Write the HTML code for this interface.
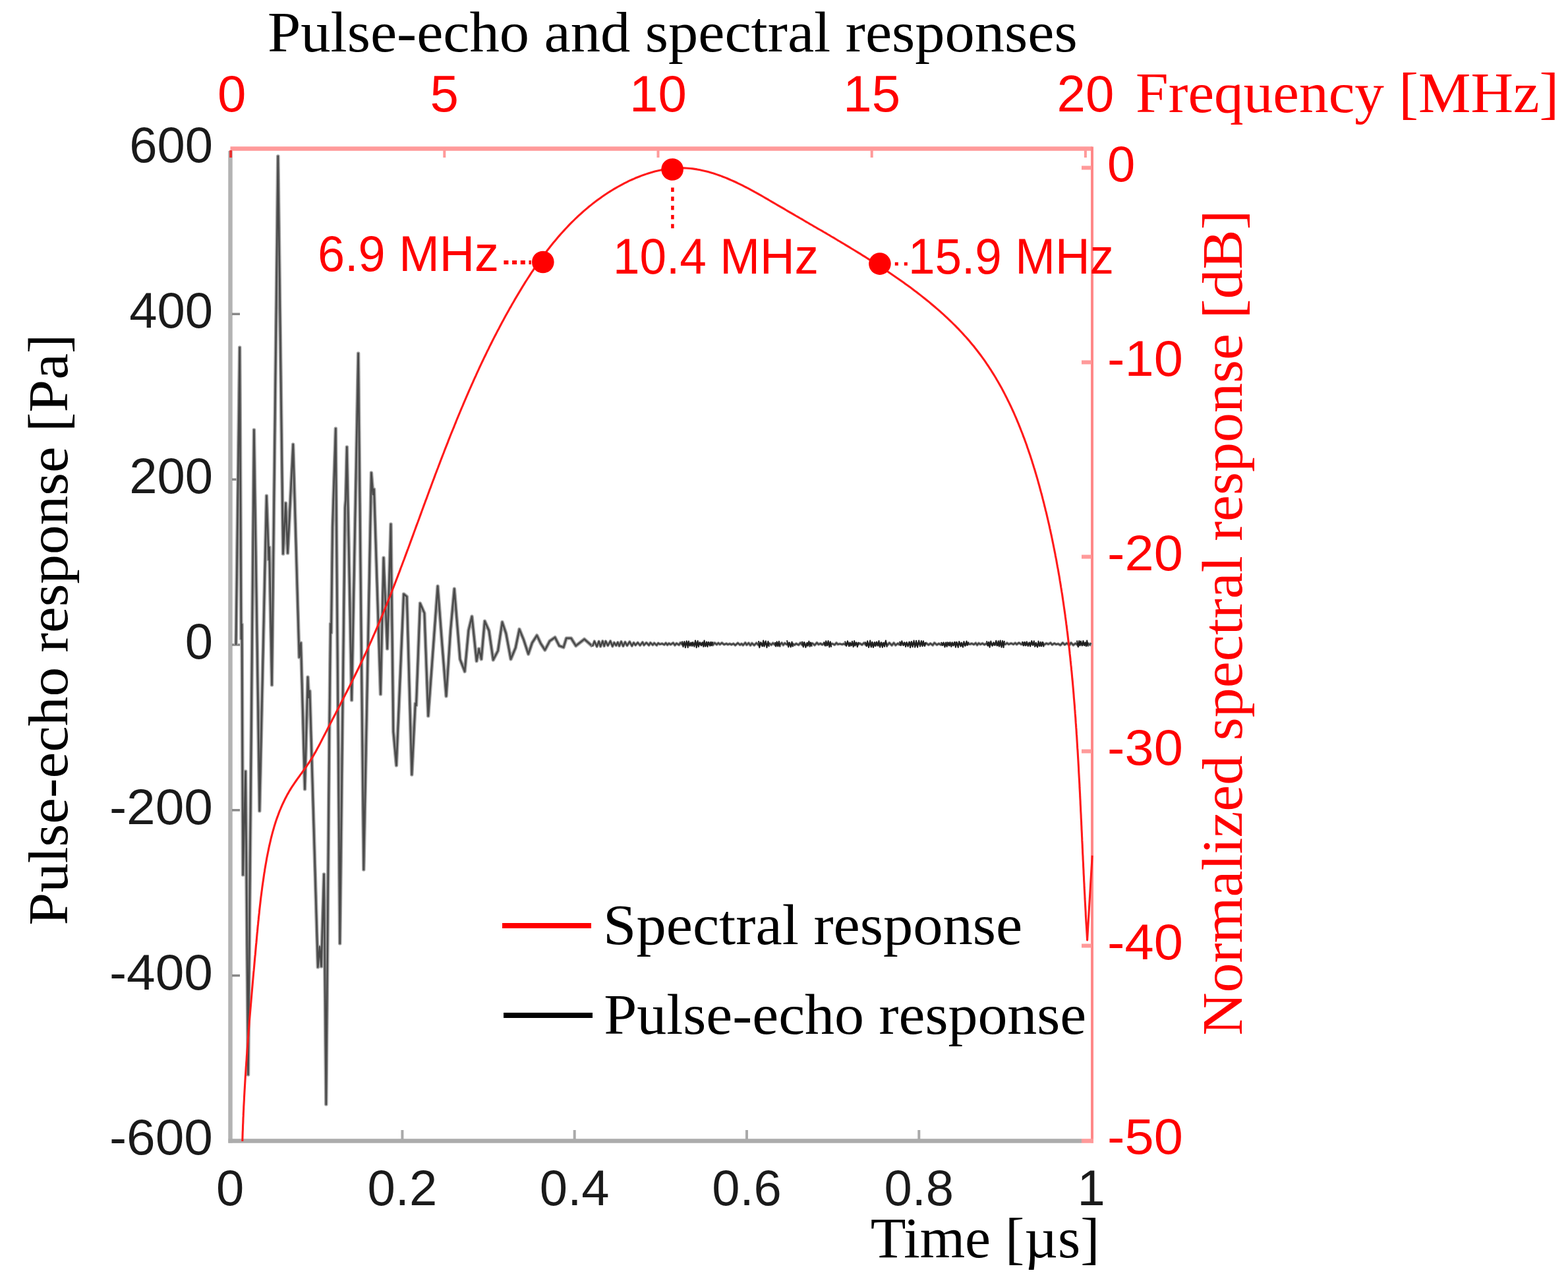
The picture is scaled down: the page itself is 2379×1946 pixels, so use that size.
<!DOCTYPE html>
<html><head><meta charset="utf-8"><title>Pulse-echo and spectral responses</title>
<style>html,body{margin:0;padding:0;background:#fff;overflow:hidden;}svg{display:block;}</style></head>
<body>
<svg width="2379" height="1946" viewBox="0 0 2379 1946">
<line x1="349.5" y1="225.5" x2="1657" y2="225.5" stroke="#ff9a9a" stroke-width="6.5"/>
<line x1="1657" y1="222.5" x2="1657" y2="1733.5" stroke="#ff8888" stroke-width="4"/>
<line x1="349.5" y1="229" x2="349.5" y2="1733.5" stroke="#b3b3b3" stroke-width="6.5"/>
<line x1="346.5" y1="1730.5" x2="1641" y2="1730.5" stroke="#acacac" stroke-width="6.5"/>
<line x1="1641" y1="1730.5" x2="1659" y2="1730.5" stroke="#ff9a9a" stroke-width="6.5"/>
<line x1="352" y1="476.3" x2="364" y2="476.3" stroke="#888" stroke-width="3.5"/>
<line x1="352" y1="727.2" x2="364" y2="727.2" stroke="#888" stroke-width="3.5"/>
<line x1="352" y1="978.0" x2="364" y2="978.0" stroke="#888" stroke-width="3.5"/>
<line x1="352" y1="1228.8" x2="364" y2="1228.8" stroke="#888" stroke-width="3.5"/>
<line x1="352" y1="1479.7" x2="364" y2="1479.7" stroke="#888" stroke-width="3.5"/>
<line x1="610.4" y1="1714" x2="610.4" y2="1728" stroke="#aaa" stroke-width="4"/>
<line x1="871.7" y1="1714" x2="871.7" y2="1728" stroke="#aaa" stroke-width="4"/>
<line x1="1133.0" y1="1714" x2="1133.0" y2="1728" stroke="#aaa" stroke-width="4"/>
<line x1="1394.3" y1="1714" x2="1394.3" y2="1728" stroke="#aaa" stroke-width="4"/>
<line x1="350.1" y1="228" x2="350.1" y2="239" stroke="#e83030" stroke-width="4"/>
<line x1="674.3" y1="228" x2="674.3" y2="239" stroke="#ff9a9a" stroke-width="4"/>
<line x1="998.5" y1="228" x2="998.5" y2="239" stroke="#ff9a9a" stroke-width="4"/>
<line x1="1322.7" y1="228" x2="1322.7" y2="239" stroke="#ff9a9a" stroke-width="4"/>
<line x1="1646.9" y1="228" x2="1646.9" y2="239" stroke="#ff9a9a" stroke-width="4"/>
<line x1="1641" y1="254.5" x2="1656" y2="254.5" stroke="#ff9a9a" stroke-width="6"/>
<line x1="1641" y1="549.5" x2="1656" y2="549.5" stroke="#ff9a9a" stroke-width="6"/>
<line x1="1641" y1="844.5" x2="1656" y2="844.5" stroke="#ff9a9a" stroke-width="6"/>
<line x1="1641" y1="1139.5" x2="1656" y2="1139.5" stroke="#ff9a9a" stroke-width="6"/>
<line x1="1641" y1="1434.5" x2="1656" y2="1434.5" stroke="#ff9a9a" stroke-width="6"/>
<path d="M358.0,978.0 L363.7,527.0 L366.0,969.0 L367.0,947.0 L368.6,1327.0 L372.6,1170.0 L376.5,1630.0 L385.4,652.0 L393.8,1230.0 L404.4,752.0 L407.8,849.0 L408.6,830.0 L412.5,1039.0 L421.8,237.0 L429.5,840.0 L433.5,763.0 L436.5,839.0 L444.7,674.0 L454.0,997.0 L456.5,975.0 L462.5,1197.0 L467.0,1027.0 L468.5,1058.0 L470.0,1048.0 L482.3,1467.0 L485.0,1436.0 L487.5,1466.0 L491.5,1326.0 L494.8,1675.0 L499.5,1130.0 L501.5,946.0 L502.5,960.0 L504.5,800.0 L509.3,650.0 L515.7,1431.0 L523.5,770.0 L524.5,758.0 L526.3,678.0 L533.6,1062.0 L543.6,536.0 L551.8,1319.0 L563.4,717.0 L566.0,750.0 L567.5,742.0 L577.4,1053.0 L582.0,846.0 L587.6,984.0 L593.0,795.0 L596.8,1110.0 L601.4,1161.0 L612.5,901.0 L617.3,905.0 L624.8,1175.0 L630.2,1067.0 L631.5,1070.0 L637.4,915.0 L643.9,930.0 L649.7,1086.0 L664.1,889.0 L670.6,975.0 L677.0,1056.0 L683.5,957.0 L689.3,893.0 L698.0,1000.0 L705.1,1018.5 L710.9,956.0 L716.0,935.0 L723.1,1002.7 L726.7,984.0 L730.3,999.8 L735.4,942.0 L741.9,956.6 L748.3,1001.0 L755.5,987.0 L762.0,943.6 L767.8,961.0 L775.0,999.8 L782.2,982.5 L788.0,954.4 L794.4,970.0 L801.6,992.0 L807.4,975.0 L814.6,963.8 L820.4,976.0 L826.8,986.0 L834.0,972.4 L842.0,966.7 L848.5,979.6 L855.0,981.8 L859.3,968.0 L866.5,968.0 L873.7,979.6 L886.6,969.5 L898.9,980.3" fill="none" stroke="#a4a4a4" stroke-width="5.6" stroke-linejoin="round"/>
<path d="M358.0,978.0 L363.7,527.0 L366.0,969.0 L367.0,947.0 L368.6,1327.0 L372.6,1170.0 L376.5,1630.0 L385.4,652.0 L393.8,1230.0 L404.4,752.0 L407.8,849.0 L408.6,830.0 L412.5,1039.0 L421.8,237.0 L429.5,840.0 L433.5,763.0 L436.5,839.0 L444.7,674.0 L454.0,997.0 L456.5,975.0 L462.5,1197.0 L467.0,1027.0 L468.5,1058.0 L470.0,1048.0 L482.3,1467.0 L485.0,1436.0 L487.5,1466.0 L491.5,1326.0 L494.8,1675.0 L499.5,1130.0 L501.5,946.0 L502.5,960.0 L504.5,800.0 L509.3,650.0 L515.7,1431.0 L523.5,770.0 L524.5,758.0 L526.3,678.0 L533.6,1062.0 L543.6,536.0 L551.8,1319.0 L563.4,717.0 L566.0,750.0 L567.5,742.0 L577.4,1053.0 L582.0,846.0 L587.6,984.0 L593.0,795.0 L596.8,1110.0 L601.4,1161.0 L612.5,901.0 L617.3,905.0 L624.8,1175.0 L630.2,1067.0 L631.5,1070.0 L637.4,915.0 L643.9,930.0 L649.7,1086.0 L664.1,889.0 L670.6,975.0 L677.0,1056.0 L683.5,957.0 L689.3,893.0 L698.0,1000.0 L705.1,1018.5 L710.9,956.0 L716.0,935.0 L723.1,1002.7 L726.7,984.0 L730.3,999.8 L735.4,942.0 L741.9,956.6 L748.3,1001.0 L755.5,987.0 L762.0,943.6 L767.8,961.0 L775.0,999.8 L782.2,982.5 L788.0,954.4 L794.4,970.0 L801.6,992.0 L807.4,975.0 L814.6,963.8 L820.4,976.0 L826.8,986.0 L834.0,972.4 L842.0,966.7 L848.5,979.6 L855.0,981.8 L859.3,968.0 L866.5,968.0 L873.7,979.6 L886.6,969.5 L898.9,980.3" fill="none" stroke="#4a4a4a" stroke-width="2.6" stroke-linejoin="round"/>
<path d="M898.9,980.3 L901.9,972.6 L905.6,980.7 L908.6,972.7 L911.1,980.6 L914.3,972.3 L916.7,980.0 L919.0,972.5 L922.3,979.2 L926.1,972.3 L929.3,980.4 L931.8,974.6 L934.8,979.1 L937.3,974.2 L939.6,979.8 L942.5,973.1 L945.5,980.0 L948.5,973.7 L951.5,979.2 L955.3,973.3 L958.8,979.7 L961.5,974.8 L964.2,978.5 L967.6,974.6 L971.1,978.9 L974.9,974.1 L977.1,978.5 L980.7,974.8 L984.5,978.6 L986.8,974.8 L990.3,978.3 L992.6,975.3 L996.3,978.7 L998.7,975.5 L1001.1,977.2 L1004.6,976.2 L1007.7,977.9 L1010.2,975.3 L1012.6,978.2 L1015.0,975.8 L1017.5,977.6 L1021.3,975.1 L1024.0,978.6 L1026.5,975.8 L1030.1,978.2 L1032.4,974.8 L1035.0,977.5 L1038.4,975.9 L1041.1,977.2 L1043.4,975.5 L1046.0,978.1 L1048.8,975.7 L1052.5,977.9 L1055.6,975.0 L1058.1,977.4 L1061.8,975.1 L1064.4,977.4 L1067.8,974.9 L1070.3,978.7 L1073.9,975.5 L1076.8,977.3 L1079.0,974.9 L1081.6,978.3 L1084.2,975.1 L1087.4,977.6 L1089.9,975.3 L1092.2,977.5 L1095.3,975.1 L1098.5,977.6 L1102.1,976.2 L1104.3,977.6 L1107.3,976.4 L1109.7,977.7 L1112.9,976.3 L1115.6,978.6 L1119.4,975.4 L1122.7,978.1 L1125.1,976.4 L1127.4,978.6 L1130.7,974.9 L1132.9,978.2 L1135.9,975.3 L1138.6,978.8 L1140.9,975.6 L1144.3,978.6 L1147.7,975.3 L1151.2,978.7 L1153.9,975.3 L1157.6,978.6 L1160.4,975.2 L1164.0,978.1 L1167.2,975.9 L1170.3,978.1 L1172.7,975.4 L1176.5,978.6 L1179.8,975.8 L1183.2,978.1 L1186.1,975.1 L1188.4,978.4 L1190.7,975.5 L1193.7,977.5 L1197.0,975.7 L1200.2,978.7 L1202.8,976.5 L1205.4,978.3 L1208.0,976.2 L1211.6,978.2 L1214.5,975.0 L1217.2,978.2 L1219.8,975.8 L1223.3,978.7 L1226.9,975.8 L1230.0,977.6 L1232.4,975.7 L1236.0,978.5 L1239.3,974.9 L1241.9,977.4 L1244.9,976.0 L1247.4,977.8 L1250.6,975.7 L1253.3,978.5 L1257.1,975.7 L1259.4,977.2 L1263.0,976.4 L1266.3,978.1 L1269.0,975.2 L1271.3,977.3 L1274.2,976.5 L1277.7,977.5 L1280.1,976.4 L1283.3,977.9 L1286.5,975.4 L1290.0,978.7 L1293.3,976.2 L1296.3,977.4 L1298.5,975.7 L1301.9,977.4 L1304.5,975.9 L1307.8,978.0 L1311.0,975.2 L1313.8,978.4 L1317.5,976.4 L1321.2,978.3 L1323.6,975.7 L1326.8,978.6 L1329.6,975.5 L1333.2,978.5 L1336.9,975.7 L1340.1,977.4 L1343.5,975.1 L1346.7,978.3 L1349.3,975.0 L1353.0,978.8 L1356.1,975.2 L1358.8,978.6 L1362.4,975.9 L1364.7,977.8 L1367.8,975.2 L1370.8,977.1 L1374.3,976.4 L1377.7,977.4 L1380.5,975.2 L1382.9,977.4 L1385.9,975.3 L1389.5,978.3 L1393.2,975.7 L1396.9,977.2 L1399.4,975.6 L1402.1,978.3 L1405.3,975.6 L1408.9,978.1 L1411.6,975.9 L1415.1,978.6 L1417.7,975.1 L1421.4,978.0 L1424.5,976.2 L1427.6,978.0 L1430.8,976.5 L1434.5,978.0 L1437.4,975.1 L1440.5,977.9 L1443.8,976.4 L1446.8,977.8 L1450.6,974.9 L1453.2,977.9 L1455.6,975.8 L1459.1,978.6 L1462.1,976.0 L1464.6,978.2 L1468.2,976.3 L1471.7,977.1 L1474.2,976.1 L1477.5,977.6 L1480.3,975.4 L1482.6,978.3 L1485.0,975.6 L1487.6,977.4 L1490.7,975.8 L1493.5,977.8 L1496.5,976.2 L1499.1,978.2 L1502.3,975.6 L1505.8,978.1 L1509.4,976.1 L1512.8,978.5 L1516.4,976.0 L1519.1,978.7 L1521.7,974.8 L1525.3,977.3 L1527.9,975.3 L1530.5,977.3 L1534.0,975.8 L1537.5,977.3 L1540.3,975.3 L1542.6,977.4 L1545.9,975.0 L1549.6,977.3 L1552.6,975.2 L1555.6,978.3 L1558.1,976.4 L1560.5,977.2 L1563.6,975.6 L1566.7,977.3 L1569.2,976.2 L1572.7,978.8 L1576.4,976.3 L1578.7,978.7 L1581.7,975.2 L1584.4,977.9 L1587.4,975.8 L1590.6,977.1 L1593.9,975.1 L1596.4,977.9 L1599.8,975.8 L1602.3,977.4 L1605.3,976.5 L1608.9,978.5 L1612.3,975.0 L1615.5,977.8 L1618.6,975.6 L1622.4,978.5 L1625.0,975.0 L1628.4,978.4 L1631.9,975.8 L1635.5,978.6 L1638.8,975.2 L1642.3,977.8 L1645.6,976.4 L1648.4,977.9 L1650.6,975.9 L1653.8,978.2 L1655.0,974.9" fill="none" stroke="#9a9a9a" stroke-width="4.4" stroke-linejoin="round"/>
<path d="M898.9,980.3 L901.9,972.6 L905.6,980.7 L908.6,972.7 L911.1,980.6 L914.3,972.3 L916.7,980.0 L919.0,972.5 L922.3,979.2 L926.1,972.3 L929.3,980.4 L931.8,974.6 L934.8,979.1 L937.3,974.2 L939.6,979.8 L942.5,973.1 L945.5,980.0 L948.5,973.7 L951.5,979.2 L955.3,973.3 L958.8,979.7 L961.5,974.8 L964.2,978.5 L967.6,974.6 L971.1,978.9 L974.9,974.1 L977.1,978.5 L980.7,974.8 L984.5,978.6 L986.8,974.8 L990.3,978.3 L992.6,975.3 L996.3,978.7 L998.7,975.5 L1001.1,977.2 L1004.6,976.2 L1007.7,977.9 L1010.2,975.3 L1012.6,978.2 L1015.0,975.8 L1017.5,977.6 L1021.3,975.1 L1024.0,978.6 L1026.5,975.8 L1030.1,978.2 L1032.4,974.8 L1035.0,977.5 L1038.4,975.9 L1041.1,977.2 L1043.4,975.5 L1046.0,978.1 L1048.8,975.7 L1052.5,977.9 L1055.6,975.0 L1058.1,977.4 L1061.8,975.1 L1064.4,977.4 L1067.8,974.9 L1070.3,978.7 L1073.9,975.5 L1076.8,977.3 L1079.0,974.9 L1081.6,978.3 L1084.2,975.1 L1087.4,977.6 L1089.9,975.3 L1092.2,977.5 L1095.3,975.1 L1098.5,977.6 L1102.1,976.2 L1104.3,977.6 L1107.3,976.4 L1109.7,977.7 L1112.9,976.3 L1115.6,978.6 L1119.4,975.4 L1122.7,978.1 L1125.1,976.4 L1127.4,978.6 L1130.7,974.9 L1132.9,978.2 L1135.9,975.3 L1138.6,978.8 L1140.9,975.6 L1144.3,978.6 L1147.7,975.3 L1151.2,978.7 L1153.9,975.3 L1157.6,978.6 L1160.4,975.2 L1164.0,978.1 L1167.2,975.9 L1170.3,978.1 L1172.7,975.4 L1176.5,978.6 L1179.8,975.8 L1183.2,978.1 L1186.1,975.1 L1188.4,978.4 L1190.7,975.5 L1193.7,977.5 L1197.0,975.7 L1200.2,978.7 L1202.8,976.5 L1205.4,978.3 L1208.0,976.2 L1211.6,978.2 L1214.5,975.0 L1217.2,978.2 L1219.8,975.8 L1223.3,978.7 L1226.9,975.8 L1230.0,977.6 L1232.4,975.7 L1236.0,978.5 L1239.3,974.9 L1241.9,977.4 L1244.9,976.0 L1247.4,977.8 L1250.6,975.7 L1253.3,978.5 L1257.1,975.7 L1259.4,977.2 L1263.0,976.4 L1266.3,978.1 L1269.0,975.2 L1271.3,977.3 L1274.2,976.5 L1277.7,977.5 L1280.1,976.4 L1283.3,977.9 L1286.5,975.4 L1290.0,978.7 L1293.3,976.2 L1296.3,977.4 L1298.5,975.7 L1301.9,977.4 L1304.5,975.9 L1307.8,978.0 L1311.0,975.2 L1313.8,978.4 L1317.5,976.4 L1321.2,978.3 L1323.6,975.7 L1326.8,978.6 L1329.6,975.5 L1333.2,978.5 L1336.9,975.7 L1340.1,977.4 L1343.5,975.1 L1346.7,978.3 L1349.3,975.0 L1353.0,978.8 L1356.1,975.2 L1358.8,978.6 L1362.4,975.9 L1364.7,977.8 L1367.8,975.2 L1370.8,977.1 L1374.3,976.4 L1377.7,977.4 L1380.5,975.2 L1382.9,977.4 L1385.9,975.3 L1389.5,978.3 L1393.2,975.7 L1396.9,977.2 L1399.4,975.6 L1402.1,978.3 L1405.3,975.6 L1408.9,978.1 L1411.6,975.9 L1415.1,978.6 L1417.7,975.1 L1421.4,978.0 L1424.5,976.2 L1427.6,978.0 L1430.8,976.5 L1434.5,978.0 L1437.4,975.1 L1440.5,977.9 L1443.8,976.4 L1446.8,977.8 L1450.6,974.9 L1453.2,977.9 L1455.6,975.8 L1459.1,978.6 L1462.1,976.0 L1464.6,978.2 L1468.2,976.3 L1471.7,977.1 L1474.2,976.1 L1477.5,977.6 L1480.3,975.4 L1482.6,978.3 L1485.0,975.6 L1487.6,977.4 L1490.7,975.8 L1493.5,977.8 L1496.5,976.2 L1499.1,978.2 L1502.3,975.6 L1505.8,978.1 L1509.4,976.1 L1512.8,978.5 L1516.4,976.0 L1519.1,978.7 L1521.7,974.8 L1525.3,977.3 L1527.9,975.3 L1530.5,977.3 L1534.0,975.8 L1537.5,977.3 L1540.3,975.3 L1542.6,977.4 L1545.9,975.0 L1549.6,977.3 L1552.6,975.2 L1555.6,978.3 L1558.1,976.4 L1560.5,977.2 L1563.6,975.6 L1566.7,977.3 L1569.2,976.2 L1572.7,978.8 L1576.4,976.3 L1578.7,978.7 L1581.7,975.2 L1584.4,977.9 L1587.4,975.8 L1590.6,977.1 L1593.9,975.1 L1596.4,977.9 L1599.8,975.8 L1602.3,977.4 L1605.3,976.5 L1608.9,978.5 L1612.3,975.0 L1615.5,977.8 L1618.6,975.6 L1622.4,978.5 L1625.0,975.0 L1628.4,978.4 L1631.9,975.8 L1635.5,978.6 L1638.8,975.2 L1642.3,977.8 L1645.6,976.4 L1648.4,977.9 L1650.6,975.9 L1653.8,978.2 L1655.0,974.9" fill="none" stroke="#404040" stroke-width="2.2" stroke-linejoin="round"/>
<path d="M1035.0,972.5 L1036.5,981.1 L1038.3,972.9 L1039.9,982.3 L1041.7,972.3 L1043.7,982.2 L1044.9,972.6 L1046.9,979.7 L1048.5,974.6 L1049.9,980.1 L1051.2,973.9 L1053.3,980.7 L1055.0,971.4 L1056.7,982.3 L1058.6,972.0 L1059.9,980.9 L1061.8,974.6 L1063.9,979.4 L1065.6,974.2 L1067.3,980.9 L1068.6,971.5 L1070.2,980.6 L1072.0,973.5 L1073.5,981.1 L1075.2,973.8 L1077.2,979.8 L1078.4,973.9 L1079.6,979.3 L1081.6,973.4" fill="none" stroke="#1e1e1e" stroke-width="2" stroke-linejoin="round"/>
<path d="M1151.0,972.2 L1152.3,982.3 L1154.4,974.5 L1156.5,980.3 L1158.2,971.4 L1159.6,980.6 L1161.8,972.3 L1163.4,982.2 L1165.4,972.7 L1166.8,981.0" fill="none" stroke="#1e1e1e" stroke-width="2" stroke-linejoin="round"/>
<path d="M1176.0,974.1 L1177.3,980.6 L1178.6,973.2 L1180.4,980.4 L1181.9,972.8 L1183.5,981.5" fill="none" stroke="#1e1e1e" stroke-width="2" stroke-linejoin="round"/>
<path d="M1194.0,971.3 L1196.2,981.4 L1197.6,974.4 L1199.7,981.5 L1201.5,973.5 L1203.0,981.2" fill="none" stroke="#1e1e1e" stroke-width="2" stroke-linejoin="round"/>
<path d="M1217.0,972.7 L1218.8,981.4 L1220.2,973.9 L1222.4,982.0 L1224.5,974.7 L1225.7,979.7 L1227.4,972.6 L1228.7,980.7 L1229.9,974.5 L1231.8,980.7" fill="none" stroke="#1e1e1e" stroke-width="2" stroke-linejoin="round"/>
<path d="M1250.0,973.5 L1251.7,979.5 L1253.2,972.2 L1255.3,979.1 L1256.6,972.0 L1258.4,981.5 L1259.8,973.3 L1261.3,981.6" fill="none" stroke="#1e1e1e" stroke-width="2" stroke-linejoin="round"/>
<path d="M1282.0,972.5 L1284.2,979.9 L1285.9,972.2 L1288.1,980.3 L1289.6,974.5 L1291.7,979.1 L1293.0,972.8 L1294.7,981.2 L1296.2,972.1 L1297.4,979.5 L1299.3,974.5 L1300.8,981.3 L1302.7,973.8" fill="none" stroke="#1e1e1e" stroke-width="2" stroke-linejoin="round"/>
<path d="M1313.0,973.5 L1314.9,980.1 L1316.2,972.3 L1318.0,982.0 L1320.2,971.6 L1321.8,981.6 L1323.3,973.7 L1324.9,982.1 L1327.0,973.9 L1328.6,980.1 L1330.1,973.4 L1331.7,979.5 L1333.5,972.0 L1335.2,981.7 L1337.0,974.2 L1338.9,981.9 L1340.4,974.7 L1342.1,980.7 L1343.9,971.4 L1345.7,981.6" fill="none" stroke="#1e1e1e" stroke-width="2" stroke-linejoin="round"/>
<path d="M1365.0,972.9 L1367.0,979.1 L1368.3,972.2 L1370.4,979.1 L1372.2,974.3 L1374.1,981.1 L1375.6,974.0 L1377.6,980.6 L1379.5,973.4 L1381.1,982.2 L1382.9,973.1 L1384.7,981.3 L1386.6,971.6 L1388.2,981.7 L1390.1,971.8 L1392.1,981.7 L1394.2,971.4 L1396.0,980.6 L1397.9,972.0 L1399.5,980.3 L1400.9,972.2 L1403.1,980.1 L1404.4,974.1" fill="none" stroke="#1e1e1e" stroke-width="2" stroke-linejoin="round"/>
<path d="M1428.0,973.8 L1430.2,979.0 L1431.7,974.4 L1433.5,981.5 L1434.9,974.6 L1436.6,980.8 L1438.7,974.7 L1440.0,979.4 L1441.4,974.0 L1443.3,980.9 L1444.7,974.2 L1446.2,979.4 L1448.2,973.7 L1449.9,981.7 L1451.6,973.9 L1453.7,982.0 L1455.2,972.9 L1457.4,980.5 L1458.8,974.6 L1461.0,981.6 L1462.5,973.0 L1464.3,979.8 L1466.5,972.5 L1467.9,978.8 L1469.6,973.5" fill="none" stroke="#1e1e1e" stroke-width="2" stroke-linejoin="round"/>
<path d="M1497.0,972.3 L1498.8,979.4 L1500.2,973.7 L1501.6,981.8 L1503.3,972.6 L1505.5,979.7 L1507.3,974.3 L1509.2,978.8 L1511.3,971.8 L1513.3,979.1 L1514.8,972.3 L1516.0,980.5 L1517.7,971.5 L1519.5,981.8 L1521.0,972.0 L1522.6,982.0 L1523.9,971.9" fill="none" stroke="#1e1e1e" stroke-width="2" stroke-linejoin="round"/>
<path d="M1551.0,972.9 L1552.7,979.4 L1554.8,973.7 L1556.3,979.1 L1557.8,973.2 L1559.7,980.1 L1561.6,974.4 L1563.2,980.4 L1565.3,971.9 L1567.2,978.8 L1568.8,972.3 L1570.2,980.8 L1571.9,974.8 L1574.1,981.6 L1575.5,972.6 L1577.0,980.1 L1578.7,973.8 L1580.2,980.2 L1582.1,973.9 L1583.5,981.4" fill="none" stroke="#1e1e1e" stroke-width="2" stroke-linejoin="round"/>
<path d="M1634.0,971.5 L1635.8,981.3 L1637.3,971.9 L1638.6,979.3 L1639.9,972.4 L1641.8,979.4 L1643.4,971.9 L1645.2,979.1 L1646.6,974.3 L1647.9,980.2 L1649.2,971.6 L1650.8,980.6" fill="none" stroke="#1e1e1e" stroke-width="2" stroke-linejoin="round"/>
<path d="M367.8,1731.0 L367.9,1727.5 L368.0,1724.0 L368.1,1720.5 L368.2,1717.0 L368.4,1713.5 L368.5,1709.9 L368.6,1706.4 L368.8,1702.9 L368.9,1699.4 L369.0,1695.9 L369.2,1692.4 L369.3,1688.9 L369.5,1685.4 L369.7,1681.8 L369.8,1678.3 L370.0,1674.8 L370.2,1671.3 L370.4,1667.8 L370.5,1664.3 L370.7,1660.8 L370.9,1657.3 L371.1,1653.8 L371.3,1650.3 L371.5,1646.8 L371.7,1643.3 L371.9,1639.8 L372.1,1636.3 L372.3,1632.8 L372.6,1629.3 L372.8,1625.8 L373.0,1622.3 L373.2,1618.8 L373.5,1615.3 L373.7,1611.8 L374.0,1608.3 L374.2,1604.8 L374.4,1601.3 L374.7,1597.8 L374.9,1594.3 L375.2,1590.8 L375.5,1587.3 L375.7,1583.8 L376.0,1580.3 L376.2,1576.8 L376.5,1573.3 L376.8,1569.8 L377.0,1566.3 L377.3,1562.8 L377.6,1559.3 L377.9,1555.8 L378.2,1552.3 L378.4,1548.8 L378.7,1545.3 L379.0,1541.8 L379.3,1538.4 L379.6,1534.9 L379.9,1531.4 L380.2,1527.9 L380.5,1524.4 L380.8,1520.9 L381.1,1517.4 L381.4,1513.9 L381.7,1510.4 L382.0,1506.9 L382.3,1503.4 L382.6,1499.9 L382.9,1496.4 L383.2,1492.9 L383.5,1489.4 L383.8,1485.9 L384.1,1482.4 L384.4,1478.9 L384.7,1475.4 L385.1,1471.9 L385.4,1468.5 L385.7,1465.0 L386.0,1461.5 L386.3,1458.0 L386.6,1454.5 L386.9,1451.0 L387.3,1447.5 L387.6,1444.0 L387.9,1440.5 L388.2,1437.0 L388.5,1433.5 L388.9,1430.0 L389.2,1426.5 L389.5,1423.0 L389.8,1419.5 L390.1,1416.0 L390.5,1412.5 L390.8,1409.0 L391.1,1405.5 L391.5,1402.0 L391.8,1398.5 L392.2,1395.0 L392.5,1391.5 L392.9,1388.0 L393.3,1384.5 L393.6,1381.0 L394.0,1377.5 L394.4,1374.0 L394.8,1370.5 L395.2,1367.0 L395.6,1363.5 L396.0,1360.0 L396.5,1356.6 L396.9,1353.1 L397.4,1349.6 L397.8,1346.1 L398.3,1342.6 L398.8,1339.1 L399.3,1335.7 L399.8,1332.2 L400.3,1328.7 L400.8,1325.2 L401.4,1321.7 L401.9,1318.3 L402.5,1314.8 L403.1,1311.3 L403.7,1307.9 L404.3,1304.4 L404.9,1300.9 L405.6,1297.5 L406.3,1294.0 L407.0,1290.6 L407.7,1287.1 L408.4,1283.7 L409.2,1280.3 L410.0,1276.8 L410.8,1273.4 L411.6,1270.0 L412.5,1266.6 L413.4,1263.2 L414.3,1259.9 L415.3,1256.5 L416.2,1253.2 L417.3,1249.8 L418.3,1246.5 L419.4,1243.2 L420.6,1239.9 L421.8,1236.7 L423.0,1233.4 L424.2,1230.2 L425.6,1227.0 L426.9,1223.8 L428.3,1220.6 L429.8,1217.5 L431.3,1214.3 L432.8,1211.2 L434.4,1208.2 L436.0,1205.1 L437.8,1202.1 L439.5,1199.1 L441.3,1196.1 L443.2,1193.2 L445.1,1190.3 L447.1,1187.4 L449.1,1184.5 L451.1,1181.6 L453.2,1178.8 L455.2,1175.9 L457.3,1173.1 L459.4,1170.2 L461.4,1167.4 L463.5,1164.5 L465.5,1161.6 L467.5,1158.7 L469.4,1155.8 L471.3,1152.9 L473.2,1149.9 L475.0,1146.9 L476.7,1143.9 L478.5,1140.9 L480.1,1137.9 L481.8,1134.8 L483.5,1131.7 L485.1,1128.7 L486.7,1125.6 L488.3,1122.5 L489.9,1119.4 L491.5,1116.3 L493.1,1113.2 L494.7,1110.1 L496.3,1107.0 L497.9,1103.8 L499.5,1100.7 L501.1,1097.6 L502.8,1094.5 L504.4,1091.4 L506.0,1088.3 L507.6,1085.2 L509.2,1082.1 L510.8,1078.9 L512.5,1075.8 L514.1,1072.7 L515.7,1069.6 L517.3,1066.5 L518.9,1063.3 L520.5,1060.2 L522.1,1057.1 L523.7,1053.9 L525.3,1050.8 L526.9,1047.7 L528.5,1044.5 L530.1,1041.4 L531.7,1038.2 L533.3,1035.1 L534.8,1031.9 L536.4,1028.8 L538.0,1025.6 L539.5,1022.5 L541.1,1019.3 L542.6,1016.2 L544.2,1013.0 L545.7,1009.8 L547.2,1006.7 L548.7,1003.5 L550.3,1000.3 L551.8,997.1 L553.2,994.0 L554.7,990.8 L556.2,987.6 L557.7,984.4 L559.1,981.2 L560.6,978.0 L562.0,974.8 L563.5,971.6 L564.9,968.4 L566.3,965.2 L567.7,962.0 L569.1,958.8 L570.5,955.6 L571.9,952.3 L573.3,949.1 L574.6,945.9 L576.0,942.7 L577.4,939.4 L578.7,936.2 L580.1,933.0 L581.4,929.7 L582.7,926.5 L584.1,923.3 L585.4,920.0 L586.7,916.8 L588.0,913.5 L589.3,910.3 L590.6,907.0 L591.9,903.8 L593.2,900.5 L594.4,897.3 L595.7,894.0 L597.0,890.7 L598.3,887.5 L599.5,884.2 L600.8,880.9 L602.0,877.7 L603.3,874.4 L604.5,871.1 L605.8,867.9 L607.0,864.6 L608.2,861.3 L609.5,858.0 L610.7,854.8 L611.9,851.5 L613.2,848.2 L614.4,844.9 L615.6,841.6 L616.8,838.4 L618.0,835.1 L619.3,831.8 L620.5,828.5 L621.7,825.2 L622.9,821.9 L624.1,818.6 L625.3,815.4 L626.5,812.1 L627.7,808.8 L628.9,805.5 L630.1,802.2 L631.3,798.9 L632.5,795.6 L633.8,792.3 L635.0,789.0 L636.2,785.7 L637.4,782.4 L638.6,779.1 L639.8,775.8 L641.0,772.5 L642.2,769.2 L643.4,765.9 L644.6,762.7 L645.8,759.4 L647.1,756.1 L648.3,752.8 L649.5,749.5 L650.7,746.2 L651.9,742.9 L653.2,739.6 L654.4,736.3 L655.6,733.0 L656.8,729.7 L658.1,726.4 L659.3,723.1 L660.5,719.8 L661.8,716.5 L663.0,713.3 L664.3,710.0 L665.5,706.7 L666.8,703.4 L668.0,700.1 L669.3,696.8 L670.5,693.6 L671.8,690.3 L673.1,687.0 L674.3,683.7 L675.6,680.4 L676.9,677.2 L678.2,673.9 L679.5,670.6 L680.7,667.3 L682.0,664.1 L683.3,660.8 L684.6,657.5 L685.9,654.3 L687.3,651.0 L688.6,647.8 L689.9,644.5 L691.2,641.3 L692.5,638.0 L693.9,634.7 L695.2,631.5 L696.5,628.3 L697.9,625.0 L699.2,621.8 L700.6,618.5 L702.0,615.3 L703.3,612.1 L704.7,608.8 L706.1,605.6 L707.5,602.4 L708.9,599.2 L710.3,595.9 L711.7,592.7 L713.1,589.5 L714.5,586.3 L715.9,583.1 L717.4,579.9 L718.8,576.7 L720.2,573.5 L721.7,570.3 L723.1,567.1 L724.6,563.9 L726.1,560.7 L727.5,557.5 L729.0,554.4 L730.5,551.2 L732.0,548.0 L733.5,544.9 L735.0,541.7 L736.6,538.5 L738.1,535.4 L739.6,532.2 L741.2,529.1 L742.7,525.9 L744.3,522.8 L745.8,519.7 L747.4,516.5 L749.0,513.4 L750.6,510.3 L752.2,507.2 L753.8,504.1 L755.4,501.0 L757.1,497.9 L758.7,494.8 L760.3,491.7 L762.0,488.6 L763.7,485.5 L765.3,482.4 L767.0,479.3 L768.7,476.3 L770.4,473.2 L772.1,470.2 L773.8,467.1 L775.6,464.1 L777.3,461.0 L779.1,458.0 L780.8,454.9 L782.6,451.9 L784.4,448.9 L786.2,445.9 L788.0,442.9 L789.8,439.9 L791.6,436.9 L793.4,433.9 L795.3,430.9 L797.1,427.9 L799.0,425.0 L800.9,422.0 L802.8,419.1 L804.7,416.1 L806.6,413.2 L808.6,410.3 L810.5,407.4 L812.5,404.5 L814.5,401.6 L816.5,398.7 L818.5,395.9 L820.6,393.0 L822.6,390.2 L824.7,387.4 L826.8,384.6 L828.9,381.8 L831.0,379.0 L833.2,376.3 L835.3,373.5 L837.5,370.8 L839.7,368.1 L841.9,365.4 L844.2,362.7 L846.4,360.0 L848.7,357.4 L851.0,354.8 L853.3,352.2 L855.7,349.6 L858.1,347.0 L860.5,344.5 L862.9,341.9 L865.3,339.4 L867.8,336.9 L870.3,334.5 L872.8,332.0 L875.3,329.6 L877.9,327.2 L880.5,324.8 L883.1,322.5 L885.7,320.2 L888.4,317.9 L891.1,315.6 L893.8,313.3 L896.6,311.1 L899.3,308.9 L902.1,306.7 L905.0,304.6 L907.8,302.5 L910.7,300.4 L913.7,298.3 L916.6,296.3 L919.6,294.3 L922.6,292.3 L925.6,290.4 L928.7,288.5 L931.7,286.6 L934.8,284.8 L938.0,283.0 L941.1,281.3 L944.3,279.6 L947.5,277.9 L950.7,276.3 L953.9,274.7 L957.1,273.2 L960.4,271.8 L963.6,270.3 L966.9,269.0 L970.2,267.7 L973.5,266.4 L976.8,265.2 L980.1,264.1 L983.5,263.0 L986.8,262.0 L990.2,261.0 L993.5,260.1 L996.9,259.3 L1000.3,258.5 L1003.7,257.8 L1007.0,257.2 L1010.4,256.6 L1013.8,256.1 L1017.2,255.7 L1020.6,255.4 L1024.0,255.1 L1027.3,254.9 L1030.7,254.8 L1034.1,254.8 L1037.5,254.9 L1040.8,255.0 L1044.2,255.2 L1047.5,255.5 L1050.9,255.9 L1054.2,256.4 L1057.6,256.9 L1060.9,257.5 L1064.2,258.2 L1067.5,258.9 L1070.9,259.7 L1074.2,260.5 L1077.5,261.5 L1080.8,262.4 L1084.1,263.5 L1087.4,264.6 L1090.6,265.7 L1093.9,266.9 L1097.2,268.2 L1100.4,269.4 L1103.7,270.8 L1107.0,272.2 L1110.2,273.6 L1113.4,275.0 L1116.7,276.5 L1119.9,278.1 L1123.1,279.6 L1126.3,281.2 L1129.5,282.9 L1132.8,284.5 L1136.0,286.2 L1139.1,287.9 L1142.3,289.6 L1145.5,291.4 L1148.7,293.1 L1151.8,294.9 L1155.0,296.7 L1158.2,298.5 L1161.3,300.3 L1164.5,302.1 L1167.6,304.0 L1170.7,305.8 L1173.8,307.6 L1177.0,309.5 L1180.1,311.3 L1183.2,313.1 L1186.3,314.9 L1189.4,316.7 L1192.4,318.5 L1195.5,320.3 L1198.6,322.1 L1201.7,323.9 L1204.7,325.7 L1207.8,327.5 L1210.8,329.2 L1213.9,331.0 L1216.9,332.7 L1219.9,334.5 L1223.0,336.3 L1226.0,338.0 L1229.0,339.8 L1232.0,341.5 L1235.0,343.3 L1238.0,345.0 L1241.0,346.8 L1244.0,348.5 L1247.0,350.2 L1250.0,352.0 L1253.0,353.7 L1256.0,355.5 L1259.0,357.2 L1261.9,359.0 L1264.9,360.7 L1267.9,362.5 L1270.8,364.3 L1273.8,366.0 L1276.8,367.8 L1279.7,369.5 L1282.7,371.3 L1285.6,373.1 L1288.6,374.9 L1291.5,376.7 L1294.5,378.5 L1297.4,380.3 L1300.4,382.1 L1303.3,383.9 L1306.3,385.7 L1309.2,387.6 L1312.2,389.4 L1315.1,391.2 L1318.0,393.1 L1321.0,395.0 L1323.9,396.8 L1326.9,398.7 L1329.8,400.6 L1332.7,402.5 L1335.7,404.4 L1338.6,406.4 L1341.5,408.3 L1344.5,410.2 L1347.4,412.2 L1350.3,414.2 L1353.2,416.2 L1356.1,418.2 L1359.0,420.2 L1361.9,422.2 L1364.8,424.2 L1367.7,426.3 L1370.6,428.3 L1373.5,430.4 L1376.4,432.5 L1379.2,434.5 L1382.1,436.6 L1384.9,438.8 L1387.7,440.9 L1390.6,443.0 L1393.4,445.2 L1396.2,447.4 L1399.0,449.6 L1401.7,451.8 L1404.5,454.0 L1407.3,456.2 L1410.0,458.4 L1412.7,460.7 L1415.4,463.0 L1418.1,465.3 L1420.8,467.6 L1423.5,469.9 L1426.1,472.2 L1428.8,474.6 L1431.4,476.9 L1434.0,479.3 L1436.5,481.7 L1439.1,484.1 L1441.7,486.6 L1444.2,489.0 L1446.7,491.5 L1449.2,493.9 L1451.6,496.4 L1454.1,498.9 L1456.5,501.5 L1458.9,504.0 L1461.3,506.6 L1463.6,509.2 L1466.0,511.8 L1468.3,514.4 L1470.6,517.0 L1472.8,519.7 L1475.1,522.4 L1477.3,525.0 L1479.4,527.8 L1481.6,530.5 L1483.7,533.2 L1485.8,536.0 L1487.9,538.8 L1490.0,541.6 L1492.0,544.4 L1494.0,547.2 L1496.0,550.1 L1497.9,553.0 L1499.9,555.9 L1501.8,558.8 L1503.7,561.7 L1505.5,564.6 L1507.4,567.6 L1509.2,570.5 L1511.0,573.5 L1512.7,576.5 L1514.5,579.5 L1516.2,582.5 L1517.9,585.6 L1519.6,588.6 L1521.3,591.7 L1522.9,594.8 L1524.5,597.9 L1526.1,601.0 L1527.7,604.1 L1529.2,607.2 L1530.8,610.4 L1532.3,613.5 L1533.8,616.7 L1535.3,619.9 L1536.7,623.0 L1538.2,626.2 L1539.6,629.5 L1541.0,632.7 L1542.4,635.9 L1543.7,639.1 L1545.1,642.4 L1546.4,645.6 L1547.7,648.9 L1549.0,652.2 L1550.3,655.5 L1551.6,658.8 L1552.8,662.1 L1554.1,665.4 L1555.3,668.7 L1556.5,672.0 L1557.7,675.3 L1558.8,678.7 L1560.0,682.0 L1561.1,685.4 L1562.3,688.7 L1563.4,692.1 L1564.5,695.4 L1565.6,698.8 L1566.6,702.2 L1567.7,705.6 L1568.7,709.0 L1569.8,712.3 L1570.8,715.7 L1571.8,719.1 L1572.8,722.5 L1573.8,725.9 L1574.8,729.4 L1575.7,732.8 L1576.7,736.2 L1577.6,739.6 L1578.5,743.0 L1579.4,746.4 L1580.4,749.8 L1581.3,753.3 L1582.1,756.7 L1583.0,760.1 L1583.9,763.5 L1584.7,767.0 L1585.6,770.4 L1586.4,773.8 L1587.3,777.2 L1588.1,780.7 L1588.9,784.1 L1589.7,787.5 L1590.5,791.0 L1591.3,794.4 L1592.1,797.8 L1592.8,801.3 L1593.6,804.7 L1594.3,808.1 L1595.1,811.6 L1595.8,815.0 L1596.5,818.5 L1597.2,821.9 L1597.9,825.3 L1598.6,828.8 L1599.3,832.2 L1600.0,835.7 L1600.7,839.1 L1601.3,842.6 L1602.0,846.0 L1602.7,849.5 L1603.3,852.9 L1603.9,856.4 L1604.5,859.8 L1605.2,863.3 L1605.8,866.7 L1606.4,870.2 L1607.0,873.6 L1607.6,877.1 L1608.1,880.5 L1608.7,884.0 L1609.3,887.5 L1609.8,890.9 L1610.4,894.4 L1610.9,897.8 L1611.5,901.3 L1612.0,904.8 L1612.5,908.2 L1613.0,911.7 L1613.5,915.1 L1614.0,918.6 L1614.5,922.1 L1615.0,925.5 L1615.5,929.0 L1616.0,932.5 L1616.4,935.9 L1616.9,939.4 L1617.4,942.9 L1617.8,946.4 L1618.3,949.8 L1618.7,953.3 L1619.1,956.8 L1619.6,960.2 L1620.0,963.7 L1620.4,967.2 L1620.8,970.7 L1621.2,974.1 L1621.6,977.6 L1622.0,981.1 L1622.4,984.6 L1622.8,988.1 L1623.1,991.5 L1623.5,995.0 L1623.9,998.5 L1624.2,1002.0 L1624.6,1005.5 L1624.9,1008.9 L1625.3,1012.4 L1625.6,1015.9 L1626.0,1019.4 L1626.3,1022.9 L1626.6,1026.4 L1626.9,1029.8 L1627.3,1033.3 L1627.6,1036.8 L1627.9,1040.3 L1628.2,1043.8 L1628.5,1047.3 L1628.8,1050.8 L1629.1,1054.3 L1629.3,1057.7 L1629.6,1061.2 L1629.9,1064.7 L1630.2,1068.2 L1630.5,1071.7 L1630.7,1075.2 L1631.0,1078.7 L1631.2,1082.2 L1631.5,1085.7 L1631.8,1089.2 L1632.0,1092.7 L1632.2,1096.2 L1632.5,1099.7 L1632.7,1103.2 L1633.0,1106.7 L1633.2,1110.2 L1633.4,1113.7 L1633.7,1117.2 L1633.9,1120.7 L1634.1,1124.2 L1634.3,1127.7 L1634.5,1131.2 L1634.7,1134.7 L1635.0,1138.2 L1635.2,1141.7 L1635.4,1145.2 L1635.6,1148.7 L1635.8,1152.2 L1636.0,1155.7 L1636.2,1159.2 L1636.4,1162.7 L1636.6,1166.2 L1636.7,1169.7 L1636.9,1173.2 L1637.1,1176.7 L1637.3,1180.2 L1637.5,1183.7 L1637.7,1187.2 L1637.9,1190.7 L1638.0,1194.2 L1638.2,1197.7 L1638.4,1201.2 L1638.6,1204.7 L1638.7,1208.2 L1638.9,1211.7 L1639.1,1215.3 L1639.2,1218.8 L1639.4,1222.3 L1639.6,1225.8 L1639.7,1229.3 L1639.9,1232.8 L1640.1,1236.3 L1640.2,1239.8 L1640.4,1243.3 L1640.6,1246.8 L1640.7,1250.3 L1640.9,1253.9 L1641.0,1257.4 L1641.2,1260.9 L1641.4,1264.4 L1641.5,1267.9 L1641.7,1271.4 L1641.8,1274.9 L1642.0,1278.4 L1642.2,1281.9 L1642.3,1285.4 L1642.5,1289.0 L1642.6,1292.5 L1642.8,1296.0 L1643.0,1299.5 L1643.1,1303.0 L1643.3,1306.5 L1643.5,1310.0 L1643.6,1313.5 L1643.8,1317.1 L1644.0,1320.6 L1644.1,1324.1 L1644.3,1327.6 L1644.5,1331.1 L1644.6,1334.6 L1644.8,1338.1 L1645.0,1341.6 L1645.1,1345.2 L1645.3,1348.7 L1645.5,1352.2 L1645.7,1355.7 L1645.9,1359.2 L1646.0,1362.7 L1646.2,1366.2 L1646.4,1369.7 L1646.6,1373.3 L1646.8,1376.8 L1647.0,1380.3 L1647.2,1383.8 L1647.3,1387.3 L1647.5,1390.8 L1647.7,1394.3 L1647.9,1397.8 L1648.1,1401.4 L1648.4,1404.9 L1648.6,1408.4 L1648.8,1411.9 L1649.0,1415.4 L1649.2,1418.9 L1649.4,1422.4 L1649.6,1425.9 L1657.2,1297.7" fill="none" stroke="#ff1a1a" stroke-width="3.1" stroke-linejoin="round"/>
<circle cx="823.8" cy="397.5" r="16.8" fill="#ff0000"/>
<circle cx="1020.1" cy="257" r="16.8" fill="#ff0000"/>
<circle cx="1334.9" cy="400.1" r="16.8" fill="#ff0000"/>
<line x1="764.4" y1="398" x2="806" y2="398" stroke="#ff0000" stroke-width="6" stroke-dasharray="7,5.7"/>
<line x1="1020.4" y1="284.5" x2="1020.4" y2="348" stroke="#ff0000" stroke-width="4.5" stroke-dasharray="6.5,7.3"/>
<line x1="1357.8" y1="400.3" x2="1377" y2="400.3" stroke="#ff0000" stroke-width="5" stroke-dasharray="5,9"/>
<line x1="762" y1="1404" x2="897" y2="1404" stroke="#ff0000" stroke-width="8"/>
<line x1="764" y1="1540" x2="899" y2="1540" stroke="#000" stroke-width="8"/>
<text x="406" y="78.4" font-family="'Liberation Serif', 'Times New Roman', serif" font-size="87" fill="#000" text-anchor="start" textLength="1228.6" lengthAdjust="spacingAndGlyphs">Pulse-echo and spectral responses</text>
<text x="1723" y="170.3" font-family="'Liberation Serif', 'Times New Roman', serif" font-size="87" fill="#ff0000" text-anchor="start" textLength="642.3" lengthAdjust="spacingAndGlyphs">Frequency [MHz]</text>
<text x="915.1" y="1431.5" font-family="'Liberation Serif', 'Times New Roman', serif" font-size="87" fill="#000" text-anchor="start" textLength="636.2" lengthAdjust="spacingAndGlyphs">Spectral response</text>
<text x="916.3" y="1568" font-family="'Liberation Serif', 'Times New Roman', serif" font-size="87" fill="#000" text-anchor="start" textLength="732" lengthAdjust="spacingAndGlyphs">Pulse-echo response</text>
<text x="1320.7" y="1907" font-family="'Liberation Serif', 'Times New Roman', serif" font-size="87" fill="#000" text-anchor="start" textLength="347.8" lengthAdjust="spacingAndGlyphs">Time [µs]</text>
<text transform="translate(101.5,1403.5) rotate(-90)" x="0" y="0" font-family="'Liberation Serif', 'Times New Roman', serif" font-size="85" fill="#000" textLength="897" lengthAdjust="spacingAndGlyphs">Pulse-echo response [Pa]</text>
<text transform="translate(1884,1570.5) rotate(-90)" x="0" y="0" font-family="'Liberation Serif', 'Times New Roman', serif" font-size="86" fill="#ff0000" textLength="1252" lengthAdjust="spacingAndGlyphs">Normalized spectral response [dB]</text>
<text x="323" y="246.3" font-family="'Liberation Sans', Arial, sans-serif" font-size="76" fill="#1a1a1a" text-anchor="end" >600</text>
<text x="323" y="497.1" font-family="'Liberation Sans', Arial, sans-serif" font-size="76" fill="#1a1a1a" text-anchor="end" >400</text>
<text x="323" y="748.0" font-family="'Liberation Sans', Arial, sans-serif" font-size="76" fill="#1a1a1a" text-anchor="end" >200</text>
<text x="323" y="998.8" font-family="'Liberation Sans', Arial, sans-serif" font-size="76" fill="#1a1a1a" text-anchor="end" >0</text>
<text x="323" y="1249.6" font-family="'Liberation Sans', Arial, sans-serif" font-size="76" fill="#1a1a1a" text-anchor="end" textLength="157.1" lengthAdjust="spacingAndGlyphs">-200</text>
<text x="323" y="1500.5" font-family="'Liberation Sans', Arial, sans-serif" font-size="76" fill="#1a1a1a" text-anchor="end" textLength="157.1" lengthAdjust="spacingAndGlyphs">-400</text>
<text x="323" y="1751.3" font-family="'Liberation Sans', Arial, sans-serif" font-size="76" fill="#1a1a1a" text-anchor="end" textLength="157.1" lengthAdjust="spacingAndGlyphs">-600</text>
<text x="349.1" y="1828" font-family="'Liberation Sans', Arial, sans-serif" font-size="76" fill="#1a1a1a" text-anchor="middle" >0</text>
<text x="610.4" y="1828" font-family="'Liberation Sans', Arial, sans-serif" font-size="76" fill="#1a1a1a" text-anchor="middle" >0.2</text>
<text x="871.7" y="1828" font-family="'Liberation Sans', Arial, sans-serif" font-size="76" fill="#1a1a1a" text-anchor="middle" >0.4</text>
<text x="1133.0" y="1828" font-family="'Liberation Sans', Arial, sans-serif" font-size="76" fill="#1a1a1a" text-anchor="middle" >0.6</text>
<text x="1394.3" y="1828" font-family="'Liberation Sans', Arial, sans-serif" font-size="76" fill="#1a1a1a" text-anchor="middle" >0.8</text>
<text x="1655.6" y="1828" font-family="'Liberation Sans', Arial, sans-serif" font-size="76" fill="#1a1a1a" text-anchor="middle" >1</text>
<text x="351.6" y="169" font-family="'Liberation Sans', Arial, sans-serif" font-size="78" fill="#ff0000" text-anchor="middle" >0</text>
<text x="674.3" y="169" font-family="'Liberation Sans', Arial, sans-serif" font-size="78" fill="#ff0000" text-anchor="middle" >5</text>
<text x="998.5" y="169" font-family="'Liberation Sans', Arial, sans-serif" font-size="78" fill="#ff0000" text-anchor="middle" >10</text>
<text x="1322.7" y="169" font-family="'Liberation Sans', Arial, sans-serif" font-size="78" fill="#ff0000" text-anchor="middle" >15</text>
<text x="1646.9" y="169" font-family="'Liberation Sans', Arial, sans-serif" font-size="78" fill="#ff0000" text-anchor="middle" >20</text>
<text x="1680" y="274.5" font-family="'Liberation Sans', Arial, sans-serif" font-size="76" fill="#ff0000" text-anchor="start" >0</text>
<text x="1680" y="569.5" font-family="'Liberation Sans', Arial, sans-serif" font-size="76" fill="#ff0000" text-anchor="start" textLength="114.8" lengthAdjust="spacingAndGlyphs">-10</text>
<text x="1680" y="864.5" font-family="'Liberation Sans', Arial, sans-serif" font-size="76" fill="#ff0000" text-anchor="start" textLength="114.8" lengthAdjust="spacingAndGlyphs">-20</text>
<text x="1680" y="1159.5" font-family="'Liberation Sans', Arial, sans-serif" font-size="76" fill="#ff0000" text-anchor="start" textLength="114.8" lengthAdjust="spacingAndGlyphs">-30</text>
<text x="1680" y="1454.5" font-family="'Liberation Sans', Arial, sans-serif" font-size="76" fill="#ff0000" text-anchor="start" textLength="114.8" lengthAdjust="spacingAndGlyphs">-40</text>
<text x="1680" y="1749.5" font-family="'Liberation Sans', Arial, sans-serif" font-size="76" fill="#ff0000" text-anchor="start" textLength="114.8" lengthAdjust="spacingAndGlyphs">-50</text>
<text x="482" y="411.2" font-family="'Liberation Sans', Arial, sans-serif" font-size="76" fill="#ff0000" text-anchor="start" textLength="275" lengthAdjust="spacingAndGlyphs">6.9 MHz</text>
<text x="930" y="415" font-family="'Liberation Sans', Arial, sans-serif" font-size="76" fill="#ff0000" text-anchor="start" textLength="312" lengthAdjust="spacingAndGlyphs">10.4 MHz</text>
<text x="1378" y="415" font-family="'Liberation Sans', Arial, sans-serif" font-size="76" fill="#ff0000" text-anchor="start" textLength="312" lengthAdjust="spacingAndGlyphs">15.9 MHz</text>
</svg>
</body></html>
